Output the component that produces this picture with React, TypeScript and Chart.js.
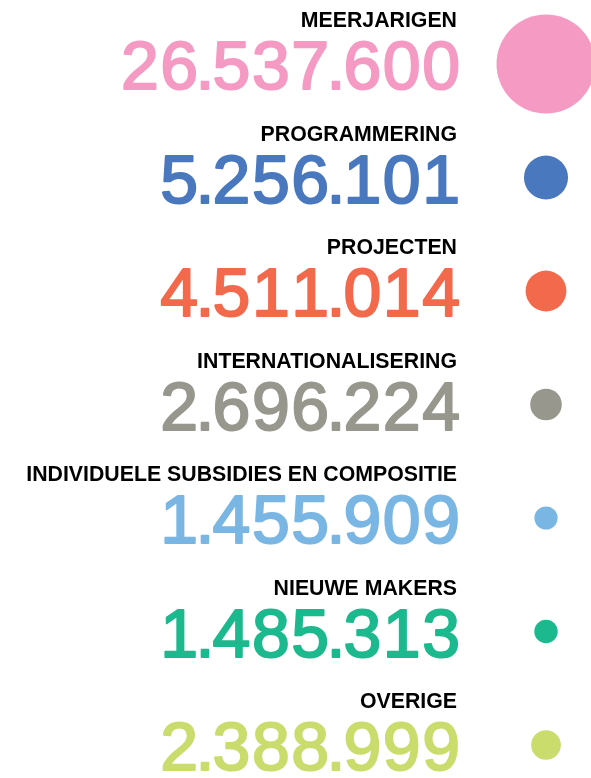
import React, { useEffect, useRef } from "react";
import { Chart, registerables } from "chart.js";

Chart.register(...registerables);

const categories = [
  "MEERJARIGEN",
  "PROGRAMMERING",
  "PROJECTEN",
  "INTERNATIONALISERING",
  "INDIVIDUELE SUBSIDIES EN COMPOSITIE",
  "NIEUWE MAKERS",
  "OVERIGE",
];
const values = [26537600, 5256101, 4511014, 2696224, 1455909, 1485313, 2388999];
const colors = ["#F49AC3", "#4A78BE", "#F3694B", "#97978E", "#7AB6E3", "#1DB98E", "#C9DC6C"];

const formatNL = (v: number) => String(v).replace(/\B(?=(\d{3})+(?!\d))/g, ".");

// draws a number with slightly open digit spacing and a narrow thousands dot, right-aligned
function drawNumber(ctx: CanvasRenderingContext2D, text: string, right: number, baseline: number) {
  const extra = 1.5;
  const dotAdv = 13;
  const dotShift = 4;
  const chars = text.split("");
  const adv = (c: string) => (c === "." ? dotAdv : ctx.measureText(c).width + extra);
  let total = 0;
  chars.forEach((c, k) => {
    total += k === chars.length - 1 ? ctx.measureText(c).width : adv(c);
  });
  let x = right + 1 - total;
  ctx.textAlign = "left";
  chars.forEach((c) => {
    const dx = c === "." ? x - dotShift : x;
    ctx.fillText(c, dx, baseline);
    ctx.strokeText(c, dx, baseline);
    x += adv(c);
  });
}

const textPlugin = {
  id: "bubbleText",
  afterDatasetsDraw(chart: any) {
    const ctx = chart.ctx as CanvasRenderingContext2D;
    const yScale = chart.scales.y;
    const right = chart.chartArea.right - 87;
    ctx.save();
    ctx.textBaseline = "alphabetic";
    categories.forEach((cat, i) => {
      const y = yScale.getPixelForValue(i);
      ctx.textAlign = "right";
      ctx.fillStyle = "#000000";
      ctx.font = 'bold 21.3px "Liberation Sans", Arial, sans-serif';
      ctx.fillText(cat, right - 2, y - 37);
      ctx.fillStyle = colors[i];
      ctx.strokeStyle = colors[i];
      ctx.lineWidth = 2;
      ctx.lineJoin = "round";
      ctx.font = '68px "Liberation Sans", Arial, sans-serif';
      drawNumber(ctx, formatNL(values[i]), right, y + 25);
    });
    ctx.restore();
  },
};

export default function App() {
  const ref = useRef<HTMLCanvasElement | null>(null);
  useEffect(() => {
    if (!ref.current) return;
    const maxV = Math.max(...values);
    const maxR = 49.5;
    const chart = new Chart(ref.current, {
      type: "bubble",
      data: {
        datasets: [
          {
            data: values.map((v, i) => ({ x: 1, y: i, r: maxR * Math.sqrt(v / maxV) })),
            backgroundColor: colors,
            borderWidth: 0,
            clip: false as any,
          },
        ],
      },
      options: {
        animation: false,
        responsive: true,
        maintainAspectRatio: false,
        layout: { autoPadding: false, padding: { top: 64, bottom: 33, left: 0, right: 45 } },
        plugins: { legend: { display: false }, tooltip: { enabled: false } },
        scales: {
          x: { display: false, min: 0, max: 1 },
          y: { display: false, min: 0, max: 6, reverse: true },
        },
      },
      plugins: [textPlugin],
    });
    return () => chart.destroy();
  }, []);
  return (
    <div style={{ position: "fixed", left: 0, top: 0, width: 591, height: 778, background: "#fff" }}>
      <canvas ref={ref} />
    </div>
  );
}
